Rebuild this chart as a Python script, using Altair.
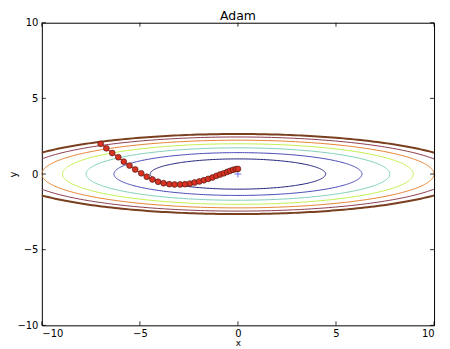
import numpy as np
import pandas as pd
import altair as alt

# contour levels of f(x, y) = x^2/20 + y^2 and their colours
levels = [1, 2, 3, 4, 5, 6, 7]
level_colors = ["#1c1c78", "#4646b4", "#7ecfb7", "#c2ef4c", "#e58232", "#8a3a4c", "#7a3f1e"]
level_widths = [1, 1, 1, 1, 1, 1, 2]

# Adam optimisation path
path_x = [-7.00, -6.71, -6.41, -6.10, -5.82, -5.53, -5.24, -4.93, -4.65, -4.36,
          -4.07, -3.79, -3.50, -3.23, -2.95, -2.70, -2.45, -2.21, -1.97, -1.74,
          -1.52, -1.30, -1.10, -0.91, -0.72, -0.55, -0.40, -0.25, -0.11, 0.00]
path_y = [2.00, 1.70, 1.39, 1.11, 0.82, 0.56, 0.30, 0.05, -0.18, -0.36,
          -0.51, -0.61, -0.67, -0.69, -0.69, -0.67, -0.63, -0.56, -0.49, -0.41,
          -0.32, -0.23, -0.12, -0.03, 0.05, 0.14, 0.21, 0.28, 0.32, 0.34]

tick_values = [-10, -5, 0, 5, 10]
title_text = ["Adam"]

W, H = 394, 304
FONT = "DejaVu Sans"

xs = alt.Scale(domain=[-10, 10], nice=False, zero=False)
ys = alt.Scale(domain=[-10, 10], nice=False, zero=False)

# contour ellipses (level sets of the function)
t = np.linspace(0, 2 * np.pi, 361)
rows = []
for lv, col, w in zip(levels, level_colors, level_widths):
    a, b = np.sqrt(20 * lv), np.sqrt(lv)
    for i, tt in enumerate(t):
        rows.append({"level": lv, "i": i, "x": a * np.cos(tt), "y": b * np.sin(tt), "w": w})
contour_df = pd.DataFrame(rows)

path_df = pd.DataFrame({"x": path_x, "y": path_y, "i": list(range(len(path_x)))})
tick_df = pd.DataFrame({"t": tick_values})
origin_df = pd.DataFrame({"x": [0.0], "y": [0.0]})
title_df = pd.DataFrame({"label": title_text})

x_axis = alt.Axis(values=tick_values, ticks=False, domain=False, grid=False,
                  labelFont=FONT, labelFontSize=10, labelColor="black", labelPadding=3,
                  title="x", titleFont=FONT, titleFontSize=9, titleFontWeight="normal",
                  titleColor="black", titlePadding=0)
y_axis = alt.Axis(values=tick_values, ticks=False, domain=False, grid=False,
                  labelFont=FONT, labelFontSize=10, labelColor="black", labelPadding=4,
                  title="y", titleFont=FONT, titleFontSize=10, titleFontWeight="normal",
                  titleColor="black", titleX=-23)

contours = alt.Chart(contour_df).mark_line(clip=True).encode(
    x=alt.X("x:Q", scale=xs, axis=x_axis),
    y=alt.Y("y:Q", scale=ys, axis=y_axis),
    color=alt.Color("level:O", scale=alt.Scale(domain=levels, range=level_colors), legend=None),
    strokeWidth=alt.StrokeWidth("w:Q", scale=None),
    detail="level:N",
    order="i:Q",
)

origin = alt.Chart(origin_df).mark_point(
    shape="M-1,0L1,0M0,-1L0,1", size=45, filled=False, stroke="#6a6af0", strokeWidth=1, opacity=1
).encode(x=alt.X("x:Q", scale=xs), y=alt.Y("y:Q", scale=ys))

path_line = alt.Chart(path_df).mark_line(color="#e8281a", strokeWidth=1.2).encode(
    x=alt.X("x:Q", scale=xs), y=alt.Y("y:Q", scale=ys), order="i:Q"
)
path_pts = alt.Chart(path_df).mark_circle(
    size=34, fill="#d93222", stroke="#3a1510", strokeWidth=0.6, opacity=1
).encode(x=alt.X("x:Q", scale=xs), y=alt.Y("y:Q", scale=ys))

tk = 4
ticks_bottom = alt.Chart(tick_df).mark_rule(color="black", strokeWidth=0.8).encode(
    x=alt.X("t:Q", scale=xs), y=alt.value(H), y2=alt.value(H - tk))
ticks_top = alt.Chart(tick_df).mark_rule(color="black", strokeWidth=0.8).encode(
    x=alt.X("t:Q", scale=xs), y=alt.value(0), y2=alt.value(tk))
ticks_left = alt.Chart(tick_df).mark_rule(color="black", strokeWidth=0.8).encode(
    y=alt.Y("t:Q", scale=ys), x=alt.value(0), x2=alt.value(tk))
ticks_right = alt.Chart(tick_df).mark_rule(color="black", strokeWidth=0.8).encode(
    y=alt.Y("t:Q", scale=ys), x=alt.value(W), x2=alt.value(W - tk))

title_mark = alt.Chart(title_df).mark_text(
    font=FONT, fontSize=12.5, color="black", align="center", baseline="alphabetic"
).encode(x=alt.value(W / 2), y=alt.value(-3), text="label:N")

chart = alt.layer(
    contours, origin, path_line, path_pts,
    ticks_bottom, ticks_top, ticks_left, ticks_right, title_mark
).properties(
    width=W, height=H,
    autosize=alt.AutoSizeParams(type="none"),
    padding={"left": 34, "top": 14, "right": 8, "bottom": 30},
    background="white",
).configure_view(
    stroke="black", strokeWidth=1
)

chart.save("out.html", embed_options={"renderer": "svg", "actions": False})
